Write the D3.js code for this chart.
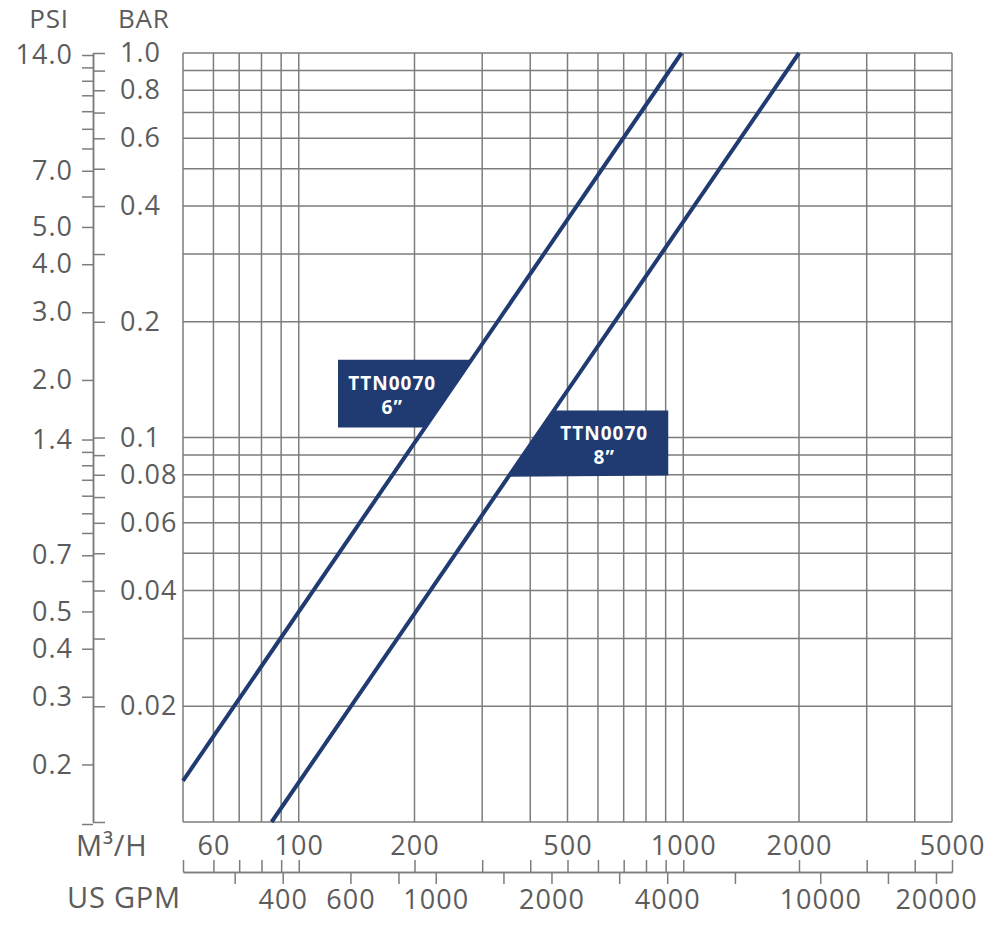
<!DOCTYPE html>
<html>
<head>
<meta charset="utf-8">
<script src="https://cdn.jsdelivr.net/npm/d3@7"></script>
<style>
  body { margin: 0; background: #fff; }
  text { font-family: "Open Sans", sans-serif; }
</style>
</head>
<body>
<svg id="chart" width="1000" height="927"></svg>
<script>
// flow in m3/h (top scale) and US GPM (bottom scale)
var flowTicks = [50, 60, 70, 80, 90, 100, 200, 300, 400, 500, 600, 700, 800, 900, 1000, 2000, 3000, 4000, 5000];
var flowLabels = [60, 100, 200, 500, 1000, 2000, 5000];
var gpmTicks = [300, 400, 600, 800, 1000, 1500, 2000, 3000, 4000, 6000, 10000, 15000, 20000];
var gpmLabels = [400, 600, 1000, 2000, 4000, 10000, 20000];

// pressure drop in bar (right of axis) and psi (left of axis)
var barTicks = [0.01, 0.02, 0.03, 0.04, 0.05, 0.06, 0.07, 0.08, 0.09, 0.1,
  0.2, 0.3, 0.4, 0.5, 0.6, 0.7, 0.8, 0.9, 1.0];
var barLabels = [1.0, 0.8, 0.6, 0.4, 0.2, 0.1, 0.08, 0.06, 0.04, 0.02];
var psiTicks = [14, 13, 12, 11, 10, 9, 8, 7, 6, 5, 4, 3, 2,
  1.4, 1.3, 1.2, 1.1, 1.0, 0.9, 0.8, 0.7, 0.6, 0.5, 0.4, 0.3, 0.2, 0.14];
var psiLabels = [14, 7, 5, 4, 3, 2, 1.4, 0.7, 0.5, 0.4, 0.3, 0.2];

var GPM_PER_M3H = 4.403;
var PSI_PER_BAR = 14.17;

// curves: [m3/h, bar]
var curve6 = [[50, 0.0128], [990, 1.0]];
var curve8 = [[85, 0.01], [2000, 1.0]];

// label boxes: name, size, box edge flow, top / bottom bar, text flow
var label6 = { name: 'TTN0070', size: '6\u201D', curve: curve6, side: 'left', edgeQ: 126.5, top: 0.1594, bottom: 0.1062, textQ: 175 };
var label8 = { name: 'TTN0070', size: '8\u201D', curve: curve8, side: 'right', edgeQ: 914, top: 0.1175, bottom: 0.0790, textQ: 623 };

var NAVY = '#203a72';
var GRID = '#7d7d7d';
var TEXT = '#5c5c5c';

var svg = d3.select('#chart');

var x = d3.scaleLog().domain([50, 5000]).range([183, 952]);
var y = d3.scaleLog().domain([0.01, 1]).range([822, 53]);
var gpm = d3.scaleLog().domain([50 * GPM_PER_M3H, 5000 * GPM_PER_M3H]).range([183, 952]);
var psi = d3.scaleLog().domain([0.01 * PSI_PER_BAR, PSI_PER_BAR]).range([822, 53]);

// grid
var grid = svg.append('g').attr('stroke', GRID).attr('stroke-width', 1.5);
grid.selectAll('.vx')
  .data(flowTicks)
  .enter()
  .append('line')
  .attr('x1', function(d) { return x(d); })
  .attr('x2', function(d) { return x(d); })
  .attr('y1', y(0.01))
  .attr('y2', y(1));
grid.selectAll('.hy')
  .data(barTicks)
  .enter()
  .append('line')
  .attr('x1', x(50))
  .attr('x2', x(5000))
  .attr('y1', function(d) { return y(d); })
  .attr('y2', function(d) { return y(d); });

function styleAxis(g) {
  g.selectAll('path, line').attr('stroke', GRID).attr('stroke-width', 1.5);
  g.selectAll('text')
    .attr('fill', TEXT)
    .attr('font-size', 27)
    .attr('letter-spacing', 1)
    .attr('font-family', '"Open Sans", sans-serif');
}

// pressure axes
var psiAxis = d3.axisLeft(psi)
  .tickValues(psiTicks)
  .tickSize(11)
  .tickSizeOuter(0)
  .tickPadding(9)
  .tickFormat(function(d) {
    return psiLabels.indexOf(d) >= 0 ? d.toFixed(1) : '';
  });
svg.append('g').attr('transform', 'translate(93,0)').call(psiAxis).call(styleAxis);

var barAxis = d3.axisRight(y)
  .tickValues(barTicks)
  .tickSize(12)
  .tickSizeOuter(0)
  .tickPadding(15)
  .tickFormat(function(d) {
    if (barLabels.indexOf(d) < 0) return '';
    return d === 1 ? '1.0' : String(d);
  });
svg.append('g').attr('transform', 'translate(93,0)').call(barAxis).call(styleAxis);

// flow axes
var flowAxis = d3.axisBottom(x)
  .tickValues(flowLabels)
  .tickSize(0)
  .tickPadding(14)
  .tickFormat(function(d) { return d; });
var fg = svg.append('g').attr('transform', 'translate(0,822)').call(flowAxis).call(styleAxis);
fg.select('.domain').remove();

var flowTickAxis = d3.axisTop(x)
  .tickValues(flowTicks)
  .tickSize(12)
  .tickSizeOuter(0)
  .tickFormat('');
svg.append('g').attr('transform', 'translate(0,872)').call(flowTickAxis).call(styleAxis);

var gpmAxis = d3.axisBottom(gpm)
  .tickValues(gpmTicks)
  .tickSize(12)
  .tickSizeOuter(0)
  .tickPadding(6)
  .tickFormat(function(d) {
    return gpmLabels.indexOf(d) >= 0 ? d : '';
  });
svg.append('g').attr('transform', 'translate(0,872)').call(gpmAxis).call(styleAxis);

// axis titles
function title(tx, ty, str, anchor, size) {
  svg.append('text')
    .attr('x', tx)
    .attr('y', ty)
    .attr('text-anchor', anchor)
    .attr('font-size', size)
    .attr('letter-spacing', 0.8)
    .attr('fill', TEXT)
    .text(str);
}
title(49, 28, 'PSI', 'middle', 26);
title(118, 28, 'BAR', 'start', 26);
title(76, 856, 'M\u00B3/H', 'start', 29);
title(67, 908, 'US GPM', 'start', 29);

// flow on a curve for a given pressure (straight in log-log)
function flowAtBar(curve, bar) {
  var lb0 = Math.log(curve[0][1]);
  var lb1 = Math.log(curve[1][1]);
  var t = (Math.log(bar) - lb0) / (lb1 - lb0);
  var lq = Math.log(curve[0][0]) + t * (Math.log(curve[1][0]) - Math.log(curve[0][0]));
  return Math.exp(lq);
}

// label boxes cut by their curve
[label6, label8].forEach(function(l) {
  var qTop = flowAtBar(l.curve, l.top);
  var qBottom = flowAtBar(l.curve, l.bottom);
  var pts;
  if (l.side === 'left') {
    pts = [[l.edgeQ, l.top], [qTop, l.top], [qBottom, l.bottom], [l.edgeQ, l.bottom]];
  } else {
    pts = [[qTop, l.top], [l.edgeQ, l.top], [l.edgeQ, l.bottom * 1.008], [qBottom, l.bottom]];
  }
  svg.append('polygon')
    .attr('points', pts.map(function(p) { return x(p[0]) + ',' + y(p[1]); }).join(' '))
    .attr('fill', NAVY);

  var midY = (y(l.top) + y(l.bottom)) / 2;
  var lines = [l.name, l.size];
  svg.selectAll(null)
    .data(lines)
    .enter()
    .append('text')
    .attr('x', x(l.textQ))
    .attr('y', function(d, i) { return midY - 11 + i * 24; })
    .attr('text-anchor', 'middle')
    .attr('dominant-baseline', 'central')
    .attr('fill', '#fff')
    .attr('font-size', 19)
    .attr('font-weight', 'bold')
    .attr('letter-spacing', 1)
    .text(function(d) { return d; });
});

// curves
var line = d3.line()
  .x(function(d) { return x(d[0]); })
  .y(function(d) { return y(d[1]); });

svg.selectAll('.curve')
  .data([curve6, curve8])
  .enter()
  .append('path')
  .attr('class', 'curve')
  .attr('d', line)
  .attr('fill', 'none')
  .attr('stroke', NAVY)
  .attr('stroke-width', 4);
</script>
</body>
</html>
